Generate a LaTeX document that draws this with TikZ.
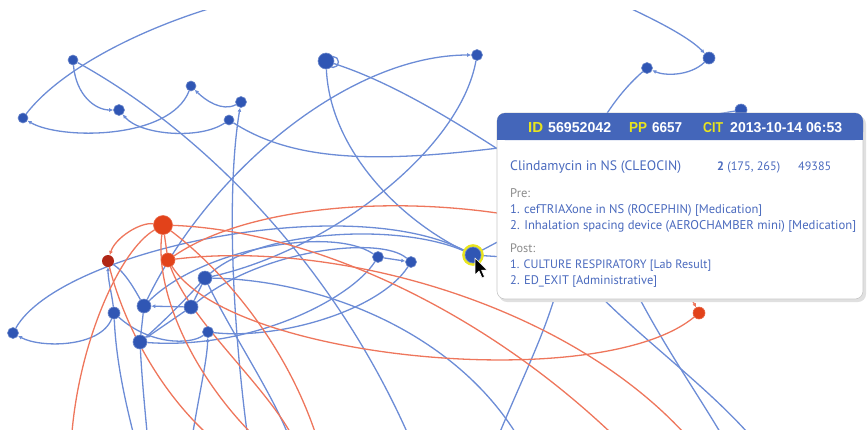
\documentclass[tikz,border=0pt]{standalone}
\usepackage{graphicx}
\usepackage{fontspec}
\setmainfont{PT Sans}
\newfontfamily\headfont{Liberation Sans}
\usetikzlibrary{arrows.meta}
\definecolor{edgeblue}{RGB}{108,140,214}
\definecolor{nodeblue}{RGB}{48,86,180}
\definecolor{edgered}{RGB}{238,118,92}
\definecolor{nodered}{RGB}{226,66,26}
\definecolor{nodedark}{RGB}{176,38,22}
\definecolor{tipblue}{RGB}{68,102,186}
\definecolor{tipyellow}{RGB}{232,228,30}
\definecolor{textblue}{RGB}{74,106,190}
\definecolor{textgray}{RGB}{140,140,140}
\pgfdeclarelayer{edges}
\pgfsetlayers{edges,main}
\tikzset{
  vtx/.style={circle, fill=nodeblue, draw=nodeblue!70, line width=0.6pt, inner sep=0pt, minimum size=#1},
  rvtx/.style={circle, fill=nodered, draw=nodered!80, line width=0.6pt, inner sep=0pt, minimum size=#1},
  bl/.style={draw=edgeblue, line width=1.3pt},
  rd/.style={draw=edgered, line width=1.3pt},
  arr/.style={-{Latex[length=4pt,width=4pt]}},
  label/.style={anchor=base west, inner sep=0pt},
  headtxt/.style={label, font=\headfont\bfseries},
  bodytxt/.style={label, text=textblue},
}
% header entries are set to a fixed width and cap height
\newcommand{\headbox}[2]{\resizebox{#1pt}{10pt}{#2}}
% body entries are set to a fixed width
\newcommand{\bodybox}[2]{\resizebox{#1pt}{!}{#2}}
\begin{document}
\begin{tikzpicture}[x=1pt,y=-1pt]
\useasboundingbox (0,0) rectangle (867,429);

% ---- vertices ----
\node[vtx=10pt] (A) at (73,60) {};
\node[vtx=10pt] (B) at (23,118) {};
\node[vtx=11pt] (C) at (119,110) {};
\node[vtx=10pt] (D) at (191,86) {};
\node[vtx=11pt] (E) at (241,102) {};
\node[vtx=10pt] (F) at (229,120) {};
\node[vtx=16pt] (G) at (326,61) {};
\node[vtx=11pt] (H) at (477,55) {};
\node[vtx=11pt] (I) at (647,68) {};
\node[vtx=12pt] (J) at (709,58) {};
\node[vtx=12pt] (K) at (741,110) {};
\node[rvtx=19pt] (R1) at (163,225) {};
\node[circle, fill=nodedark, inner sep=0pt, minimum size=12pt] (R2) at (108,261) {};
\node[rvtx=14pt] (R3) at (168,260) {};
\node[vtx=14pt] (b1) at (205,278) {};
\node[vtx=14pt] (b2) at (144,306) {};
\node[vtx=14pt] (b3) at (191,307) {};
\node[vtx=12pt] (b4) at (114,313) {};
\node[vtx=11pt] (b5) at (13,333) {};
\node[vtx=14pt] (b6) at (140,342) {};
\node[vtx=11pt] (b7) at (208,332) {};
\node[vtx=11pt] (b8) at (378,257) {};
\node[vtx=11pt] (b9) at (411,262) {};
\node[rvtx=12pt] (R4) at (699,313) {};
\draw[tipyellow, line width=2.6pt] (473,255) circle (9.5);
\node[vtx=16pt] (HL) at (473,255) {};

% ---- connectors ----
\begin{pgfonlayer}{edges}
\begin{scope}
\clip (0,10) rectangle (867,429);
% upper group
\draw[bl] (B) .. controls (60,70) and (140,28) .. (225,4);
\draw[bl,arr] (A) .. controls (76,95) and (95,110) .. (C);
\draw[bl] (A) .. controls (200,130) and (330,260) .. (407,432);
\draw[bl,arr] (D) .. controls (170,140) and (60,140) .. (B);
\draw[bl,arr] (F) .. controls (200,140) and (140,135) .. (C);
\draw[bl,arr] (E) .. controls (222,112) and (205,100) .. (D);
\draw[bl,arr] (247,432) .. controls (230,300) and (228,180) .. (E);
\draw[bl] (F) .. controls (320,178) and (450,160) .. (K);
\draw[bl] (333,62) circle (5.5);
\draw[bl] (G) .. controls (330,150) and (400,220) .. (HL);
\draw[bl] (G) .. controls (400,85) and (470,130) .. (560,190);
\draw[bl,arr] (b2) .. controls (210,170) and (350,55) .. (H);
\draw[bl] (H) .. controls (460,150) and (330,250) .. (b1);
\draw[bl,arr] (J) .. controls (690,76) and (665,76) .. (I);
\draw[bl,arr] (621,4) .. controls (660,22) and (690,38) .. (J);
\draw[bl] (I) .. controls (610,100) and (580,150) .. (575,200);
\draw[bl] (565,250) .. controls (557,310) and (530,360) .. (500,432);
\draw[bl] (585,280) .. controls (630,330) and (700,380) .. (747,432);
\draw[bl] (630,280) .. controls (660,340) and (695,390) .. (720,432);
% lower group, blue
\draw[bl,arr] (b4) .. controls (100,348) and (40,348) .. (b5);
\draw[bl] (b5) .. controls (60,250) and (350,190) .. (HL);
\draw[bl,arr] (b4) .. controls (112,295) and (108,280) .. (R2);
\draw[bl] (R2) .. controls (125,272) and (135,290) .. (b2);
\draw[bl] (b4) .. controls (116,360) and (125,400) .. (133,432);
\draw[bl] (b6) .. controls (142,380) and (145,410) .. (147,432);
\draw[bl,arr] (193,432) .. controls (200,390) and (207,360) .. (b7);
\draw[bl,arr] (b3) -- (b2);
\draw[bl] (b2) -- (b6);
\draw[bl,arr] (b3) -- (b6);
\draw[bl] (b1) -- (b3);
\draw[bl] (b1) .. controls (185,300) and (160,325) .. (b6);
\draw[bl] (b2) .. controls (200,250) and (330,225) .. (b8);
\draw[bl] (b6) .. controls (250,350) and (350,300) .. (b8);
\draw[bl,arr] (b8) -- (b9);
\draw[bl] (b9) .. controls (380,310) and (280,340) .. (b7);
\draw[bl] (b1) .. controls (260,230) and (400,222) .. (HL);
\draw[bl] (b3) .. controls (260,250) and (380,235) .. (b9);
\draw[bl] (b1) .. controls (320,280) and (450,330) .. (515,432);
\draw[bl] (b1) .. controls (230,330) and (270,390) .. (287,432);
\draw[bl] (b4) .. controls (150,345) and (190,345) .. (b7);
\draw[bl] (HL) -- (520,258);
\draw[bl] (HL) -- (520,230);
% lower group, red
\draw[rd] (R1) -- (R3);
\draw[rd,arr] (R1) .. controls (140,222) and (115,238) .. (R2);
\draw[rd] (R1) .. controls (120,250) and (80,340) .. (72,432);
\draw[rd] (R2) .. controls (120,310) and (150,380) .. (205,432);
\draw[rd] (R1) .. controls (155,290) and (190,370) .. (250,432);
\draw[rd] (R3) .. controls (190,320) and (260,380) .. (290,432);
\draw[rd] (R1) .. controls (210,260) and (280,330) .. (315,432);
\draw[rd] (R1) .. controls (300,230) and (470,300) .. (610,432);
\draw[rd] (R3) .. controls (330,240) and (560,300) .. (683,432);
\draw[rd,arr] (R3) .. controls (300,170) and (640,200) .. (R4);
\draw[rd] (R3) .. controls (230,360) and (600,395) .. (R4);
\end{scope}
\end{pgfonlayer}

% ---- info panel ----
\fill[black!12, rounded corners=8pt] (499,116) rectangle (866,302);
\draw[fill=white, draw=black!22, line width=0.6pt, rounded corners=8pt] (497,113) rectangle (863,299);
\fill[tipblue, rounded corners=8pt] (497,113) rectangle (863,140);
\fill[tipblue] (497,128) rectangle (863,140);

\node[headtxt, text=tipyellow] (lid) at (528,132) {\headbox{15}{ID}};
\node[headtxt, text=white] (vid) at (548,132) {\headbox{63}{56952042}};
\node[headtxt, text=tipyellow] (lpp) at (629,132) {\headbox{18}{PP}};
\node[headtxt, text=white] (vpp) at (652,132) {\headbox{30}{6657}};
\node[headtxt, text=tipyellow] (lcit) at (703,132) {\headbox{20}{CIT}};
\node[headtxt, text=white] (vcit) at (730,132) {\headbox{112}{2013-10-14 06:53}};

\node[bodytxt] (drug) at (510,170) {\bodybox{171}{Clindamycin in NS (CLEOCIN)}};
\node[bodytxt] (count) at (717,170) {\bodybox{63}{\textbf{2} (175, 265)}};
\node[bodytxt] (code) at (798,170) {\bodybox{33}{49385}};

\node[bodytxt, text=textgray] (pre) at (510,197) {\bodybox{20}{Pre:}};
\node[bodytxt] (pre1) at (510,213) {\bodybox{252}{1. cefTRIAXone in NS (ROCEPHIN) [Medication]}};
\node[bodytxt] (pre2) at (510,229) {\bodybox{346}{2. Inhalation spacing device (AEROCHAMBER mini) [Medication]}};
\node[bodytxt, text=textgray] (post) at (510,252) {\bodybox{25}{Post:}};
\node[bodytxt] (post1) at (510,268) {\bodybox{201}{1. CULTURE RESPIRATORY [Lab Result]}};
\node[bodytxt] (post2) at (510,284) {\bodybox{147}{2. ED\_EXIT [Administrative]}};

% ---- mouse pointer ----
\draw[fill=black, draw=white, line width=0.7pt, line join=round]
  (475,258) -- ++(0,17) -- ++(4,-4) -- ++(3,7) -- ++(2.6,-1.2) -- ++(-3,-6.6) -- ++(5.6,0) -- cycle;
\end{tikzpicture}
\end{document}
